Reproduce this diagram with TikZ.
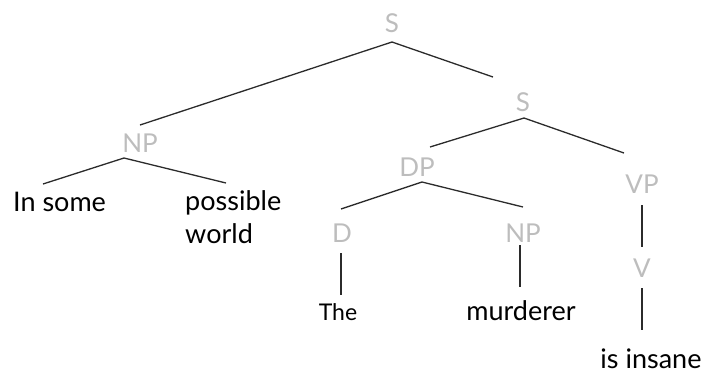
\documentclass[tikz,border=0pt]{standalone}
\usepackage{fontspec}
\setmainfont{Lato}
\definecolor{labgray}{HTML}{BDBDBD}
\definecolor{edgecol}{HTML}{2B2B2B}
\begin{document}
\begin{tikzpicture}[x=1pt,y=-1pt,
  cat/.style={text=labgray,inner sep=0pt,anchor=base,font=\fontsize{26}{30}\selectfont},
  word/.style={text=black,inner sep=0pt,font=\fontsize{27}{33}\selectfont},
  edge/.style={draw=edgecol,line width=1.3pt}]
\useasboundingbox (0,0) rectangle (704,373);
% category labels
\node[cat] (S1) at (392,32) {S};
\node[cat] (S2) at (523,111) {S};
\node[cat] (NP1) at (140,152) {NP};
\node[cat] (DP) at (417,176) {DP};
\node[cat] (VP) at (642,193) {VP};
\node[cat] (D) at (342,242) {D};
\node[cat] (NP2) at (523,242) {NP};
\node[cat] (V) at (642,277) {V};
% words
\node[word,anchor=base west] (w1) at (13,211) {In some};
\node[word,anchor=base west,align=left] (w2) at (185,243) {possible\\world};
\node[word,anchor=base,font=\fontsize{23}{28}\selectfont] (w3) at (338,320) {The};
\node[word,anchor=base] (w4) at (521,320) {murderer};
\node[word,anchor=base] (w5) at (651,368) {is insane};
% connector ends
\coordinate (S1b) at (392,42);
\coordinate (NP1t) at (140,125);
\coordinate (S2t) at (493,77);
\coordinate (NP1b) at (124,158);
\coordinate (w1t) at (43,184);
\coordinate (w2t) at (226,183);
\coordinate (S2b) at (524,118);
\coordinate (DPt) at (430,147);
\coordinate (VPt) at (624,153);
\coordinate (DPb) at (422,182);
\coordinate (Dt) at (341,209);
\coordinate (NP2t) at (523,207);
\coordinate (Db) at (341,253);
\coordinate (w3t) at (341,295);
\coordinate (NP2b) at (520,245);
\coordinate (w4t) at (520,287);
\coordinate (VPb) at (642,205);
\coordinate (Vt) at (642,247);
\coordinate (Vb) at (642,288);
\coordinate (w5t) at (642,330);
% connectors
\draw[edge] (NP1t) -- (S1b) -- (S2t);
\draw[edge] (w1t) -- (NP1b) -- (w2t);
\draw[edge] (DPt) -- (S2b) -- (VPt);
\draw[edge] (Dt) -- (DPb) -- (NP2t);
\draw[edge] (Db) -- (w3t);
\draw[edge] (NP2b) -- (w4t);
\draw[edge] (VPb) -- (Vt);
\draw[edge] (Vb) -- (w5t);
\end{tikzpicture}
\end{document}
